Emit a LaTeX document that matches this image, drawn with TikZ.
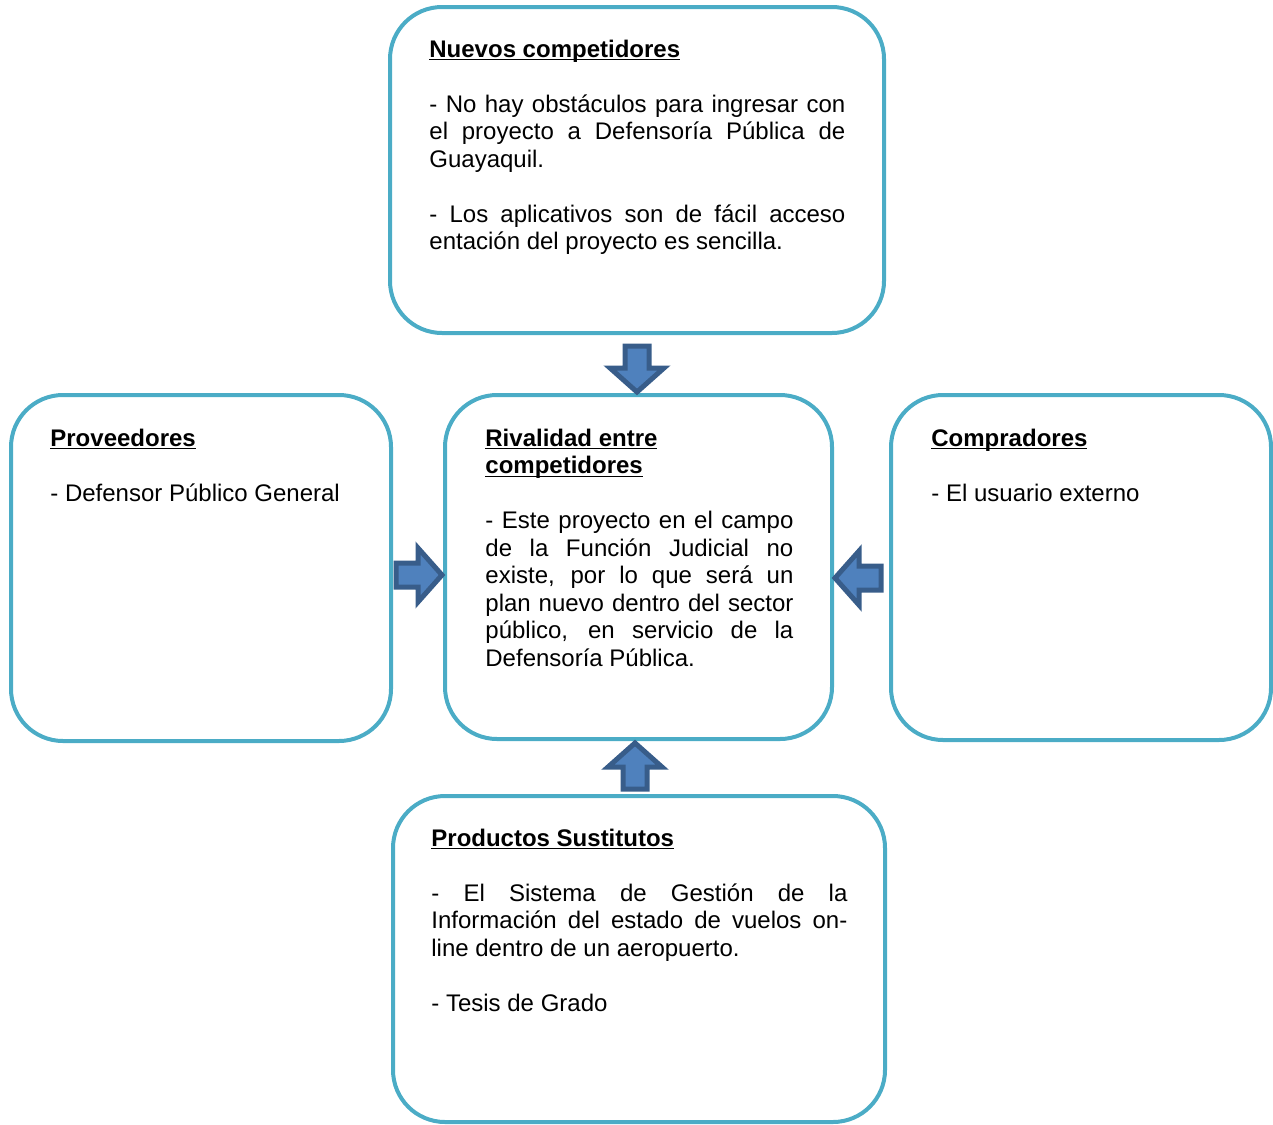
\documentclass[tikz,border=0pt]{standalone}
\usepackage{fontspec}
\setmainfont{Liberation Sans}
\usetikzlibrary{positioning}

\definecolor{borde}{HTML}{4BACC6}
\definecolor{flechaazul}{HTML}{4F81BD}
\definecolor{flechaborde}{HTML}{385D8A}

\tikzset{
  caja/.style={draw=borde, line width=2pt, rounded corners=26pt, inner sep=0pt},
  texto/.style={anchor=base west, inner sep=0pt, font=\fontsize{12}{13.75}\selectfont},
  flecha/.style={fill=flechaazul, draw=flechaborde, line width=2.5pt, line join=miter}
}
\newcommand{\titulo}[1]{\textbf{\underline{\smash{#1}}}}
\newcommand{\flechabloque}[2]{%
  \draw[flecha, shift={#1}, rotate=#2] (-1,0) -- (-25,27) -- (-25,12) -- (-47,12) -- (-47,-12) -- (-25,-12) -- (-25,-27) -- cycle;}

\begin{document}
\begin{tikzpicture}[x=0.5pt, y=-0.5pt]
\useasboundingbox (0,0) rectangle (1273,1124);

% cajas
\node[caja, minimum width=247pt, minimum height=163pt] (nuevos) at (637,170) {};
\node[caja, minimum width=190pt, minimum height=173pt] (proveedores) at (201,568) {};
\node[caja, minimum width=193.5pt, minimum height=172pt] (rivalidad) at (638.5,567) {};
\node[caja, minimum width=190pt, minimum height=172.5pt] (compradores) at (1081,567.5) {};
\node[caja, minimum width=246pt, minimum height=163pt] (sustitutos) at (639,959) {};

% flechas
\flechabloque{(637,393)}{-90}
\flechabloque{(443,575)}{0}
\flechabloque{(834,578)}{180}
\flechabloque{(635,742)}{90}

% textos
\node[texto] (tnuevos) at (429,57) {\parbox[t]{208pt}{\titulo{Nuevos competidores}\par\vspace{\baselineskip}
- No hay obstáculos para ingresar con\linebreak el proyecto a Defensoría Pública de\linebreak Guayaquil.\par\vspace{\baselineskip}
- Los aplicativos son de fácil acceso\linebreak entación del proyecto es sencilla.}};

\node[texto] (tproveedores) at (50,446) {\parbox[t]{160pt}{\titulo{Proveedores}\par\vspace{\baselineskip}
- Defensor Público General}};

\node[texto] (trivalidad) at (485,446) {\parbox[t]{154pt}{\titulo{Rivalidad entre}\\\titulo{competidores}\par\vspace{\baselineskip}
- Este proyecto en el campo\linebreak de la Función Judicial no\linebreak existe, por lo que será un\linebreak plan nuevo dentro del sector\linebreak público, en servicio de la\linebreak Defensoría Pública.}};

\node[texto] (tcompradores) at (931,446) {\parbox[t]{160pt}{\titulo{Compradores}\par\vspace{\baselineskip}
- El usuario externo}};

\node[texto] (tsustitutos) at (431,846) {\parbox[t]{208pt}{\titulo{Productos Sustitutos}\par\vspace{\baselineskip}
- El Sistema de Gestión de la\linebreak Información del estado de vuelos on-\linebreak line dentro de un aeropuerto.\par\vspace{\baselineskip}
- Tesis de Grado}};
\end{tikzpicture}
\end{document}
